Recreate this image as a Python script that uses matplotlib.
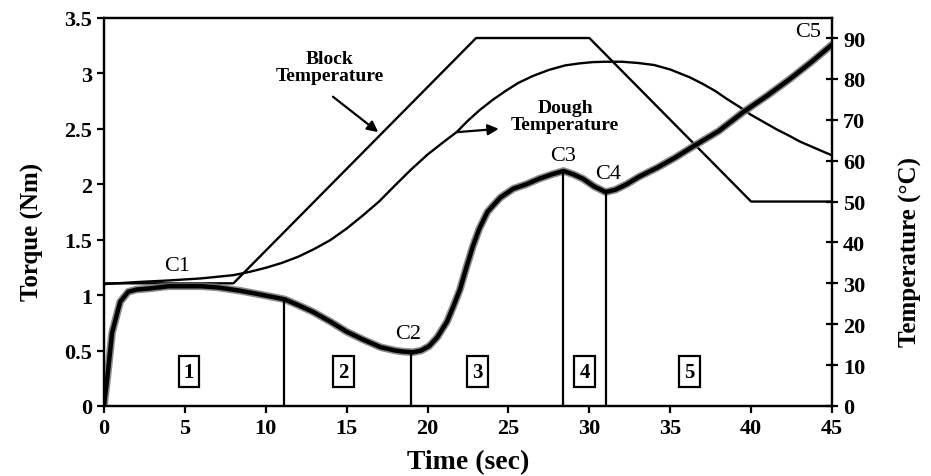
import matplotlib
matplotlib.use("Agg")
import matplotlib.pyplot as plt
import numpy as np

plt.rcParams["font.family"] = ["Liberation Serif", "DejaVu Serif"]

# torque curve (Nm)
torque_t = [0, 0.2, 0.5, 1.0, 1.5, 2.0, 2.8, 4, 5, 6, 7, 8.4, 9.5, 10.9, 11.2, 12, 12.9, 14, 15, 16,
            17.1, 18, 18.5, 19.1, 19.6, 20.1, 20.6, 21.2, 21.6, 22, 22.4, 22.8, 23.2, 23.7, 24.0, 24.5,
            25.3, 26.1, 26.9, 27.7, 28.4, 29.0, 29.6, 30.3, 31.0, 31.6, 32.3, 33.1, 34.2, 35.3, 36.4,
            38, 39.5, 41, 42.4, 43.7, 45]
torque = [0, 0.25, 0.66, 0.94, 1.03, 1.05, 1.06, 1.08, 1.08, 1.08, 1.07, 1.04, 1.01, 0.97, 0.96, 0.91,
          0.85, 0.76, 0.67, 0.6, 0.53, 0.5, 0.49, 0.485, 0.5, 0.54, 0.62, 0.76, 0.9, 1.05, 1.25, 1.44,
          1.6, 1.75, 1.8, 1.88, 1.96, 2.0, 2.05, 2.09, 2.12, 2.09, 2.05, 1.98, 1.93, 1.95, 2.0, 2.07,
          2.15, 2.24, 2.34, 2.48, 2.65, 2.8, 2.95, 3.1, 3.26]

# block temperature (°C)
block_t = [0, 8, 23, 30, 40, 45]
block_temp = [30, 30, 90, 90, 50, 50]

# dough temperature (°C)
dough_t = [0, 2, 4, 6, 8, 9, 10, 11, 12, 13, 14, 15, 16, 17, 18, 19, 20, 21, 21.8, 22.5, 23.2, 24,
           24.8, 25.6, 26.5, 27.5, 28.5, 29.4, 30.2, 31, 32, 33, 34, 35, 36.2, 37, 37.8, 38.5, 39.3,
           40, 40.8, 41.6, 42.4, 43, 43.7, 44.4, 45]
dough_temp = [29.8, 30.3, 30.7, 31.2, 32.0, 32.8, 33.8, 35.0, 36.5, 38.4, 40.6, 43.4, 46.6, 50.0,
              54.0, 57.9, 61.5, 64.6, 67.0, 69.8, 72.3, 74.8, 77.0, 79.0, 80.7, 82.2, 83.3, 83.8,
              84.1, 84.2, 84.2, 83.9, 83.4, 82.3, 80.4, 78.8, 77.0, 75.1, 73.1, 71.2, 69.4, 67.6,
              66.0, 64.7, 63.5, 62.3, 61.3]

# stage boundaries and labels
stage_x = [11.1, 19.0, 28.4, 31.0]
stage_top = [0.97, 0.485, 2.12, 1.93]
box_labels = ["1", "2", "3", "4", "5"]
box_x = [5.25, 14.8, 23.1, 29.7, 36.2]

c_labels = ["C1", "C2", "C3", "C4", "C5"]
c_x = [4.5, 18.8, 28.4, 31.15, 43.5]
c_y = [1.27, 0.65, 2.26, 2.1, 3.38]

fig = plt.figure(figsize=(9.31, 4.77), dpi=100)
ax = fig.add_axes([0.1117, 0.1468, 0.782, 0.8134])
ax2 = ax.twinx()

ax2.plot(block_t, block_temp, color="black", linewidth=1.7, zorder=2)
ax2.plot(dough_t, dough_temp, color="black", linewidth=1.7, zorder=2)
ax2.set_ylim(0, 94.9)
ax2.set_yticks(np.arange(0, 91, 10))
ax.set_zorder(ax2.get_zorder() + 1)
ax.patch.set_visible(False)

ax.plot(torque_t, torque, color="#707070", linewidth=5.5, alpha=0.8, solid_capstyle="round")
ax.plot(torque_t, torque, color="black", linewidth=3.2, solid_capstyle="round")
ax.vlines(stage_x, 0, stage_top, color="black", linewidth=1.6)

for lab, xv in zip(box_labels, box_x):
    ax.text(xv, 0.31, lab, ha="center", va="center", fontsize=15, fontweight="bold",
            bbox=dict(boxstyle="square,pad=0.25", facecolor="white", edgecolor="black", linewidth=1.6))
for lab, xv, yv in zip(c_labels, c_x, c_y):
    ax.text(xv, yv, lab, ha="center", va="center", fontsize=16)

arrow_style = dict(arrowstyle="-|>", color="black", lw=1.6, mutation_scale=16, shrinkA=0, shrinkB=0)
ax.text(13.95, 3.06, "Block\nTemperature", ha="center", va="center", fontsize=14, fontweight="bold",
        linespacing=1.0)
ax.annotate("", xy=(16.95, 2.47), xytext=(14.15, 2.79), arrowprops=arrow_style)
ax.text(28.5, 2.62, "Dough\nTemperature", ha="center", va="center", fontsize=14, fontweight="bold",
        linespacing=1.0)
ax.annotate("", xy=(24.4, 2.50), xytext=(21.8, 2.47), arrowprops=arrow_style)

ax.set_xlim(0, 45)
ax.set_ylim(0, 3.5)
ax.set_xticks(np.arange(0, 46, 5))
ax.set_yticks(np.arange(0, 3.51, 0.5))
ax.set_yticklabels([f"{v:g}" for v in np.arange(0, 3.51, 0.5)])

for a in (ax, ax2):
    for s in a.spines.values():
        s.set_linewidth(1.6)
ax.tick_params(axis="both", direction="out", length=5, width=1.6, labelsize=16)
ax2.tick_params(axis="y", direction="inout", length=9, width=1.6, labelsize=16)
for lbl in ax.get_xticklabels() + ax.get_yticklabels() + ax2.get_yticklabels():
    lbl.set_fontweight("bold")

ax.set_xlabel("Time (sec)", fontsize=20, fontweight="bold")
ax.set_ylabel("Torque (Nm)", fontsize=18, fontweight="bold")
ax2.set_ylabel("Temperature (°C)", fontsize=18, fontweight="bold")
ax.xaxis.set_label_coords(0.5, -0.11)
ax.yaxis.set_label_coords(-0.083, 0.45)
ax2.yaxis.set_label_coords(1.092, 0.40)

fig.savefig("out.png", dpi=100)
